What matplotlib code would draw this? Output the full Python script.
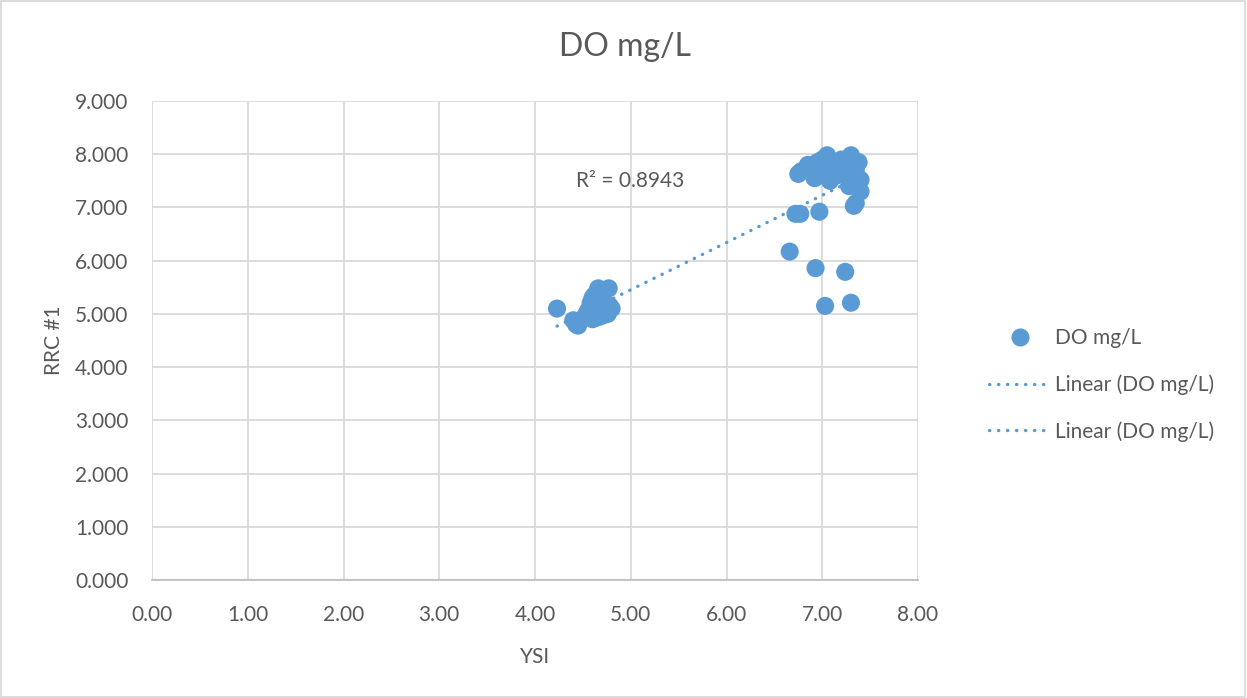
import numpy as np
import matplotlib.pyplot as plt
from matplotlib.lines import Line2D
from matplotlib.patches import Rectangle

plt.rcParams['font.family'] = ['Lato', 'DejaVu Sans']

# YSI vs RRC #1 readings (DO mg/L)
ysi_low = [4.23, 4.40, 4.43, 4.45, 4.52, 4.55, 4.57, 4.58, 4.60, 4.60, 4.62, 4.62,
           4.63, 4.65, 4.66, 4.67, 4.68, 4.70, 4.70, 4.70, 4.72, 4.73, 4.75, 4.77,
           4.78, 4.80, 4.76, 4.68, 4.64]
rrc_low = [5.10, 4.88, 4.80, 4.78, 4.95, 5.05, 5.00, 5.20, 5.30, 4.90, 5.35, 5.10,
           4.92, 5.00, 5.48, 5.15, 5.25, 5.05, 5.40, 5.30, 4.98, 5.20, 5.10, 5.48,
           5.15, 5.10, 5.00, 4.95, 5.22]

ysi_high = [6.75, 6.78, 6.85, 6.88, 6.92, 6.95, 6.97, 7.00, 7.02, 7.05, 7.05, 7.08,
            7.10, 7.12, 7.15, 7.18, 7.20, 7.22, 7.25, 7.28, 7.30, 7.30, 7.32, 7.35,
            7.37, 7.38, 7.40, 7.40, 7.35, 7.33]
rrc_high = [7.63, 7.68, 7.80, 7.75, 7.55, 7.85, 7.70, 7.90, 7.60, 7.98, 7.80, 7.50,
            7.70, 7.85, 7.60, 7.75, 7.90, 7.65, 7.80, 7.40, 7.98, 7.55, 7.85, 7.70,
            7.45, 7.85, 7.52, 7.30, 7.08, 7.03]

ysi_out = [6.72, 6.77, 6.97, 6.66, 6.93, 7.24, 7.03, 7.30]
rrc_out = [6.88, 6.88, 6.92, 6.17, 5.86, 5.79, 5.15, 5.21]

ysi = np.array(ysi_low + ysi_high + ysi_out)
rrc = np.array(rrc_low + rrc_high + rrc_out)

r2_label = 'R² = 0.8943'
series_name = 'DO mg/L'
x_ticks = [0, 1, 2, 3, 4, 5, 6, 7, 8]
y_ticks = [0, 1, 2, 3, 4, 5, 6, 7, 8, 9]

blue = '#5B9BD5'
grey_text = '#595959'
grid_col = '#d9d9d9'

fig = plt.figure(figsize=(12.47, 6.98), dpi=100)
ax = fig.add_axes([152 / 1247, 1 - 580 / 698, 766 / 1247, 479 / 698])

ax.scatter(ysi, rrc, s=170, color=blue, edgecolors='none', zorder=3)

# linear trendline
slope, intercept = np.polyfit(ysi, rrc, 1)
xs = np.array([ysi.min(), ysi.max()])
ax.plot(xs, slope * xs + intercept, color=blue, lw=2.4,
        linestyle=(0, (0.1, 2.6)), dash_capstyle='round', zorder=2)

ax.text(4.99, 7.5, r2_label, fontsize=15, color=grey_text, ha='center', va='center')

ax.set_xlim(0, 8)
ax.set_ylim(0, 9)
ax.set_xticks(x_ticks)
ax.set_yticks(y_ticks)
ax.set_xticklabels([f'{v:.2f}' for v in x_ticks])
ax.set_yticklabels([f'{v:.3f}' for v in y_ticks])
ax.tick_params(length=0, labelsize=15, colors=grey_text)
ax.tick_params(axis='x', pad=18)
ax.tick_params(axis='y', pad=17)
ax.grid(True, color=grid_col, lw=1.3)
ax.set_axisbelow(True)
for s in ['top', 'right', 'left']:
    ax.spines[s].set_visible(False)
ax.spines['bottom'].set_color('#bfbfbf')
ax.spines['bottom'].set_linewidth(1.3)

ax.set_xlabel('YSI', fontsize=15, color=grey_text, labelpad=16)
ax.set_ylabel('RRC #1', fontsize=15, color=grey_text, labelpad=8)
fig.text(625 / 1247, 1 - 47 / 698, series_name, fontsize=23, color=grey_text,
         ha='center', va='center')

handles = [
    Line2D([], [], ls='none', marker='o', markersize=13, color=blue, markeredgewidth=0),
    Line2D([], [], color=blue, lw=2.4, linestyle=(0, (0.1, 2.6)), dash_capstyle='round'),
    Line2D([], [], color=blue, lw=2.4, linestyle=(0, (0.1, 2.6)), dash_capstyle='round'),
]
labels = [series_name, 'Linear (DO mg/L)', 'Linear (DO mg/L)']
fig.legend(handles, labels, loc='center left', bbox_to_anchor=(970 / 1247, 1 - 385 / 698),
           frameon=False, fontsize=15, labelcolor=grey_text, handlelength=3.0,
           handletextpad=0.2, labelspacing=1.25)

fig.patches.append(Rectangle((0.001, 0.001), 0.997, 0.997, transform=fig.transFigure,
                             fill=False, edgecolor=grid_col, lw=1.3))

fig.savefig('out.png', dpi=100)
